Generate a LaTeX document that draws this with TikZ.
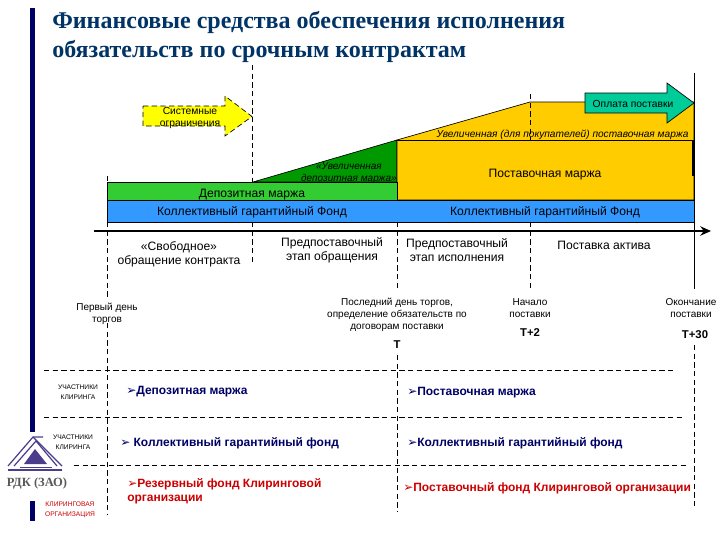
\documentclass[tikz,border=0pt]{standalone}
\usepackage{fontspec}
\setmainfont{Liberation Sans}
\newfontfamily\serifbf{Liberation Serif}
\newfontfamily\dejavu{DejaVu Sans}
\usetikzlibrary{arrows,arrows.meta,positioning,calc}
\definecolor{barblue}{HTML}{000066}
\definecolor{titleblue}{HTML}{003366}
\definecolor{fondblue}{HTML}{3399FF}
\definecolor{depgreen}{HTML}{33CC33}
\definecolor{darkgreen}{HTML}{009900}
\definecolor{margorange}{HTML}{FFCC00}
\definecolor{payteal}{HTML}{00CC99}
\definecolor{sysyellow}{HTML}{FFFF00}
\definecolor{redtext}{HTML}{CC0000}
\definecolor{logoblue}{HTML}{4B3C8C}
\newcommand{\bul}{{\dejavu\char"27A2}}
\tikzset{
  band/.style={draw=black,line width=.5pt},
  guide/.style={line width=.7pt,dash pattern=on 4pt off 2.5pt},
  label/.style={align=center,inner sep=0pt,font=\fontsize{9.1}{10.5}\selectfont},
  arrowlabel/.style={align=center,inner sep=0pt,font=\fontsize{7.7}{9}\selectfont},
  small/.style={align=center,inner sep=0pt,font=\fontsize{7.5}{9}\selectfont},
  tiny/.style={align=center,inner sep=0pt,font=\fontsize{5}{7.5}\selectfont},
  boldt/.style={inner sep=0pt,font=\fontsize{8.5}{10}\selectfont\bfseries},
  item/.style={anchor=west,inner sep=0pt,align=left,text=barblue,font=\fontsize{9}{10.5}\selectfont\bfseries},
  reditem/.style={item,text=redtext},
}
\begin{document}
\begin{tikzpicture}[x=.75pt,y=-.75pt]

      \useasboundingbox[fill=white] (0,0) rectangle (720,540);

      \fill[barblue] (30,8) rectangle (35,432);
      \fill[barblue] (30,501) rectangle (35,521);

      \node[anchor=west,inner sep=0pt,align=left,text=titleblue,
        font=\serifbf\fontsize{18}{21.7}\selectfont\bfseries] (title) at (52,37)
        {Финансовые средства обеспечения исполнения\\обязательств по срочным контрактам};

      % bands
      \filldraw[band,fill=darkgreen] (253,182) -- (397,140) -- (397,182) -- cycle;
      \filldraw[band,fill=margorange] (397,140) -- (530,102) -- (694,102) -- (694,200) -- (397,200) -- cycle;
      \draw[band] (397,140) -- (694,140);
      \filldraw[band,fill=depgreen] (107.5,182) rectangle (397,200.5);
      \filldraw[band,fill=fondblue] (107.5,200.5) rectangle (694,222);
      \draw[line width=1.6pt] (693.5,140) -- (693.5,176);

      % arrows
      \filldraw[band,guide,line width=.5pt,fill=sysyellow] (143,106) -- (225,106) -- (225,96) -- (252,116.5)
        -- (225,136) -- (225,126) -- (143,126) -- cycle;
      \filldraw[band,fill=payteal] (585,93) -- (667,93) -- (667,83) -- (694,103)
        -- (667,123) -- (667,113) -- (585,113) -- cycle;

      % time axis
      \coordinate (axisL) at (94,231);
      \coordinate (axisR) at (711,231);
      \draw[line width=2pt,-{Stealth[length=8pt,width=7pt]}] (axisL) -- (axisR);

      % vertical guides
      \draw[guide] (107.5,176) -- (107.5,182);
      \draw[guide] (107.5,222) -- (107.5,298);
      \draw[guide] (107.5,323) -- (107.5,515);
      \draw[guide] (252.5,65) -- (252.5,182);
      \draw[guide] (252.5,222) -- (252.5,262);
      \draw[guide] (397,222) -- (397,290);
      \draw[guide] (397,355) -- (397,512);
      \draw[guide] (530,94) -- (530,140);
      \draw[guide] (530,222) -- (530,291);
      \draw[line width=.7pt] (694,73) -- (694,284);
      \draw[guide] (694,284) -- (694,291);
      \draw[guide] (694,345) -- (694,508);

      % horizontal guides
      \draw[guide] (44,370) -- (676,370);
      \draw[guide] (44,417) -- (685,417);
      \draw[guide] (74,465) -- (686,465);

      % band labels
      \node[arrowlabel] (sys) at (190,118) {Системные\\ограничения};
      \node[arrowlabel] (pay) at (633,104) {Оплата поставки};
      \node[arrowlabel,font=\fontsize{7.6}{9}\selectfont\itshape] (incmarg) at (562.5,134.5) {Увеличенная (для покупателей) поставочная маржа};
      \node[arrowlabel,anchor=north east,font=\fontsize{7.5}{9}\selectfont\itshape] (incdep) at (397,162) {«Увеличенная\\депозитная маржа»};
      \node[label] (delmarg) at (545,174.5) {Поставочная маржа};
      \node[label] (depmarg) at (252,195) {Депозитная маржа};
      \node[label] (fond1) at (252,212.5) {Коллективный гарантийный Фонд};
      \node[label] (fond2) at (545,212.5) {Коллективный гарантийный Фонд};

      % stages
      \node[label] (free) at (179,254) {«Свободное»\\обращение контракта};
      \node[label] (pre1) at (332,250) {Предпоставочный\\этап обращения};
      \node[label] (pre2) at (457,250) {Предпоставочный\\этап исполнения};
      \node[label] (deliv) at (604,245.5) {Поставка актива};

      % dates
      \node[small] (first) at (107,314) {Первый день\\торгов};
      \node[small] (last) at (397,314.5) {Последний день торгов,\\определение обязательств по\\договорам поставки};
      \node[small] (begin) at (530,308.5) {Начало\\поставки};
      \node[small] (end) at (691,308.5) {Окончание\\поставки};
      \node[boldt] (tt) at (397,345) {T};
      \node[boldt] (tt2) at (530,333) {T+2};
      \node[boldt] (tt30) at (695,335) {T+30};

      % rows
      \node[tiny] (part1) at (78,392) {УЧАСТНИКИ\\КЛИРИНГА};
      \node[tiny] (part2) at (73,442) {УЧАСТНИКИ\\КЛИРИНГА};
      \node[tiny,text=redtext] (clear) at (70,510) {КЛИРИНГОВАЯ\\ОРГАНИЗАЦИЯ};
      \node[item] (it1) at (126,391.5) {\bul Депозитная маржа};
      \node[item] (it2) at (407,392.5) {\bul Поставочная маржа};
      \node[item] (it3) at (120,443) {\bul\ Коллективный гарантийный фонд};
      \node[item] (it4) at (407,443) {\bul Коллективный гарантийный фонд};
      \node[reditem] (it5) at (127,491) {\bul Резервный фонд Клиринговой\\организации};
      \node[reditem] (it6) at (403,488) {\bul Поставочный фонд Клиринговой организации};

      % logo
      \fill[logoblue] (35,449) -- (47,464) -- (24,464) -- cycle;
      \draw[logoblue,line width=.9pt] (8,466) -- (33,437) -- (43,437);
      \draw[logoblue,line width=.9pt] (14,466) -- (36,441) -- (57,466);
      \draw[logoblue,line width=.9pt] (33,437) -- (62,466);
      \draw[logoblue,line width=.8pt] (8,470) -- (62,470);
      \draw[logoblue,line width=.6pt] (20,467) -- (52,467);
      \node[inner sep=0pt,text=black!65,font=\serifbf\fontsize{9.4}{10}\selectfont\bfseries] (rdk) at (37,483) {РДК (ЗАО)};

    \end{tikzpicture}
\end{document}
